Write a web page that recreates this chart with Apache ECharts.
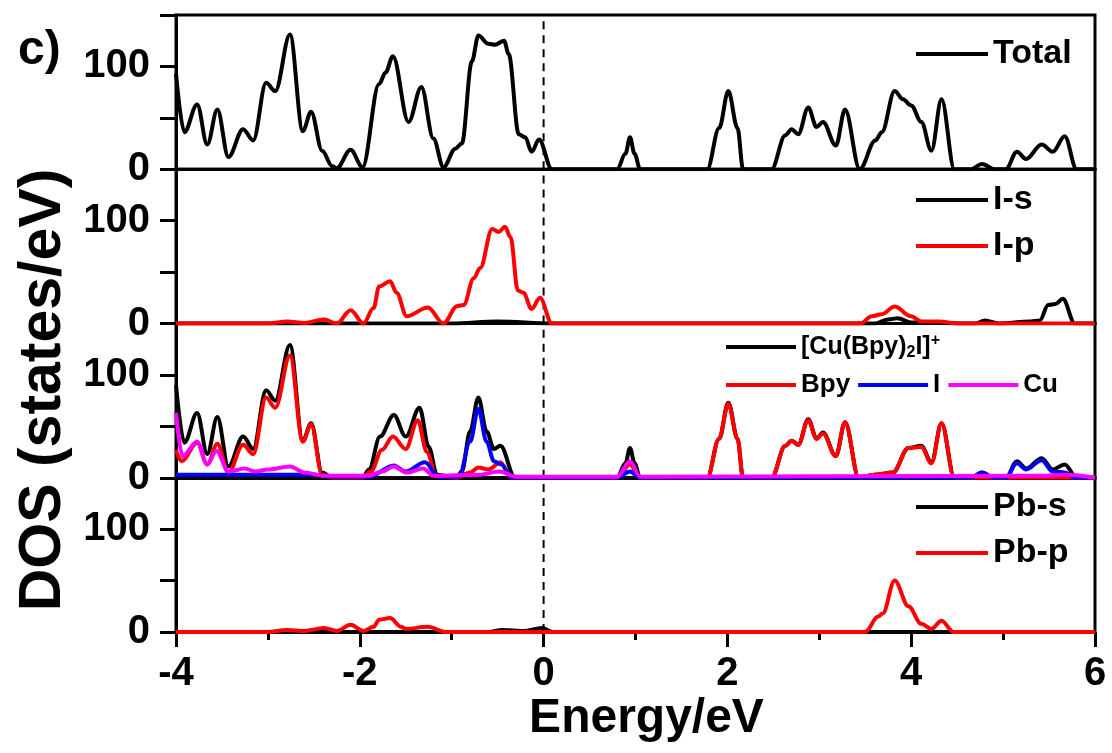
<!DOCTYPE html>
<html>
<head>
<meta charset="utf-8">
<style>
  html, body { margin: 0; padding: 0; background: #fff; }
  #main { width: 1112px; height: 753px; }
</style>
<script src="https://cdn.jsdelivr.net/npm/echarts/dist/echarts.min.js"></script>
</head>
<body>
<div id="main"></div>
<script>
// 图表数据：每条曲线为 [能量 eV, DOS] 点对
const xTicks = [-4, -2, 0, 2, 4, 6];
const yTicks = [0, 100];
const fermiLevel = [[0, 0], [0, 150]];   // 费米能级 E = 0

// 第一幅：Total
const total = [[-4.0,93],[-3.91,36],[-3.77,63],[-3.66,24],[-3.55,58],[-3.43,12],[-3.27,39],[-3.16,28],[-3.02,84],[-2.92,76],[-2.76,131],[-2.62,37],[-2.53,56],[-2.41,18],[-2.30,3],[-2.25,1],[-2.10,19],[-1.97,2],[-1.79,83],[-1.72,94],[-1.64,110],[-1.47,46],[-1.33,80],[-1.2,30],[-1.09,2],[-0.96,20],[-0.89,25],[-0.78,105],[-0.71,130],[-0.60,122],[-0.53,121],[-0.43,125],[-0.38,112],[-0.27,34],[-0.20,31],[-0.13,17],[-0.05,29],[0.09,0],[0.80,0],[0.89,15],[0.94,31],[0.99,15],[1.05,0],[1.78,0],[1.91,40],[2.01,76],[2.11,40],[2.17,0],[2.48,0],[2.63,33],[2.70,39],[2.77,34],[2.88,60],[2.97,41],[3.04,46],[3.18,23],[3.28,58],[3.44,0],[3.61,28],[3.68,36],[3.82,76],[3.91,68],[4.00,62],[4.11,46],[4.22,18],[4.33,68],[4.47,0],[4.65,0],[4.77,5],[4.91,0],[5.03,0],[5.15,17],[5.25,10],[5.42,24],[5.54,17],[5.67,32],[5.80,0],[6.0,0]];

// 第二幅：I-s, I-p
const iS = [[-4,0],[-1.0,0],[-0.5,2],[0.1,0],[3.6,0],[3.75,4],[3.85,5],[4.0,1],[4.7,0],[4.8,3],[4.95,0],[5.3,2],[5.40,3],[5.49,18],[5.57,19],[5.65,24],[5.78,0],[6,0]];
const iP = [[-4,0],[-3.0,0],[-2.79,2],[-2.6,0.5],[-2.39,4],[-2.25,0],[-2.10,13],[-1.96,0],[-1.85,15],[-1.79,36],[-1.67,41],[-1.6,30],[-1.49,7],[-1.26,15.5],[-1.09,0],[-0.94,17],[-0.87,18],[-0.76,44],[-0.69,54],[-0.56,92],[-0.49,89],[-0.42,94],[-0.36,84],[-0.28,32],[-0.22,30],[-0.13,14],[-0.04,25],[0.09,0],[3.45,0],[3.57,7],[3.68,9],[3.82,16.5],[4.0,7],[4.11,2],[4.3,2],[4.5,0],[6,0]];

// 第三幅：[Cu(Bpy)2I]+, Bpy, I, Cu
const cation = [[-4,90],[-3.91,34],[-3.77,63],[-3.66,23],[-3.55,59],[-3.43,11],[-3.27,40],[-3.16,28],[-3.02,85],[-2.92,75],[-2.76,129],[-2.62,36],[-2.53,53],[-2.41,5],[-2.3,0],[-1.97,0],[-1.90,8],[-1.78,40],[-1.63,61],[-1.50,40],[-1.35,68],[-1.25,30],[-1.16,3],[-0.95,0],[-0.89,6],[-0.80,45],[-0.71,78],[-0.62,45],[-0.54,28],[-0.47,31],[-0.31,0],[0.8,0],[0.89,14],[0.94,29],[0.99,14],[1.05,0],[1.78,0],[1.91,38],[2.01,73],[2.11,38],[2.17,0],[2.48,0],[2.63,31],[2.70,36],[2.77,32],[2.88,57],[2.97,38],[3.04,44],[3.18,21],[3.28,54],[3.43,0],[3.6,3],[3.8,5],[3.97,29],[4.11,31],[4.22,15],[4.33,53],[4.47,0],[4.65,0],[4.77,5],[4.9,0],[5.03,0],[5.15,16],[5.25,9],[5.42,19],[5.54,8],[5.67,13],[5.80,0],[6,0]];
const bpy = [[-4,27],[-3.94,16],[-3.77,34],[-3.66,13],[-3.55,33],[-3.43,5],[-3.27,32],[-3.16,23],[-3.02,78],[-2.92,68],[-2.76,119],[-2.62,35],[-2.53,52],[-2.41,3],[-2.3,0],[-1.97,0],[-1.88,6],[-1.76,27],[-1.64,40],[-1.50,28],[-1.37,56],[-1.27,25],[-1.17,2],[-0.95,0],[-0.80,5],[-0.71,10],[-0.60,8],[-0.47,15],[-0.35,0],[0.8,0],[0.94,13],[1.05,0],[1.78,0],[1.91,38],[2.01,72],[2.11,38],[2.17,0],[2.48,0],[2.63,31],[2.70,36],[2.77,32],[2.88,56],[2.97,38],[3.04,43],[3.18,21],[3.28,54],[3.43,0],[3.6,3],[3.8,5],[3.97,29],[4.11,30],[4.22,14],[4.33,53],[4.47,0],[6,0]];
const iodine = [[-4,3],[-2.5,3],[-2.3,1],[-1.9,1],[-1.63,12],[-1.5,6],[-1.29,15],[-1.15,1],[-0.92,1],[-0.80,35],[-0.71,67],[-0.62,35],[-0.54,16],[-0.46,13],[-0.35,0],[0.8,0],[0.94,6],[1.05,0],[4.65,0],[4.77,5],[4.9,0],[5.03,0],[5.15,14],[5.25,8],[5.42,17],[5.54,6],[5.67,5],[5.78,0],[6,0]];
const copper = [[-4,63],[-3.93,21],[-3.77,35],[-3.66,13],[-3.56,26],[-3.43,6],[-3.25,9],[-3.14,6],[-3.0,8],[-2.76,11],[-2.6,5],[-2.4,2],[-1.9,2],[-1.76,6],[-1.63,11],[-1.49,5],[-1.31,9],[-1.2,2],[-0.7,3],[-0.48,6],[-0.3,1],[0.8,1],[0.94,16],[1.05,1],[5.4,2],[5.7,3],[6,0]];

// 第四幅：Pb-s, Pb-p
const pbS = [[-4,0],[-0.6,0],[-0.45,2],[-0.2,1],[-0.02,4],[0.1,0],[6,0]];
const pbP = [[-4,0],[-3.0,0],[-2.8,2],[-2.6,1],[-2.39,4],[-2.25,1],[-2.10,7],[-1.96,1],[-1.85,5],[-1.79,12],[-1.67,13.5],[-1.55,5],[-1.5,3],[-1.26,5],[-1.07,0],[3.5,0],[3.64,15],[3.69,18],[3.82,50],[3.97,25],[4.11,8],[4.22,3],[4.33,11],[4.46,0],[6,0]];

const FONT = 'Liberation Sans, Arial, sans-serif';
const chart = echarts.init(document.getElementById('main'));

const panelTop = 15, panelH = 154.25;
const grids = [0, 1, 2, 3].map(i => ({
    left: 176, right: 17, top: panelTop + i * panelH, height: panelH,
    show: true, borderColor: '#000', borderWidth: 3
}));

const xAxes = [0, 1, 2, 3].map(i => {
    const last = i === 3;
    return {
        type: 'value', gridIndex: i, min: -4, max: 6, interval: 2,
        axisLine: { show: true, onZero: false, lineStyle: { color: '#000', width: 3 } },
        axisTick: { show: last, length: 15, lineStyle: { color: '#000', width: 3 } },
        minorTick: { show: last, splitNumber: 2, length: 8, lineStyle: { color: '#000', width: 3 } },
        splitLine: { show: false },
        axisLabel: {
            show: last, margin: 22, color: '#000', fontSize: 40, fontWeight: 'bold', fontFamily: FONT,
            formatter: v => xTicks.includes(v) ? String(v) : ''
        },
        name: last ? 'Energy/eV' : '',
        nameLocation: 'middle', nameGap: 58,
        nameTextStyle: { color: '#000', fontSize: 48, fontWeight: 'bold', fontFamily: FONT, padding: [0, 0, 0, 22] }
    };
});

const yAxes = [0, 1, 2, 3].map(i => ({
    type: 'value', gridIndex: i, min: 0, max: 150, interval: 50,
    axisLine: { show: true, onZero: false, lineStyle: { color: '#000', width: 3 } },
    axisTick: { length: 16, lineStyle: { color: '#000', width: 3 } },
    splitLine: { show: false },
    axisLabel: {
        margin: 26, color: '#000', fontSize: 40, fontWeight: 'bold', fontFamily: FONT,
        formatter: v => yTicks.includes(v) ? String(v) : ''
    }
}));

function line(name, data, color, panel) {
    return {
        name, type: 'line', data, xAxisIndex: panel, yAxisIndex: panel,
        showSymbol: false, symbol: 'none', smooth: 0.35, smoothMonotone: 'x',
        lineStyle: { color, width: 4 }, itemStyle: { color }, z: 3
    };
}

// 虚线（每个面板一条）
function dashed(panel) {
    return {
        type: 'line', data: fermiLevel, xAxisIndex: panel, yAxisIndex: panel,
        showSymbol: false, symbol: 'none', silent: true, z: 2,
        lineStyle: { color: '#000', width: 2, type: [8, 6] }
    };
}

const legendText = { color: '#000', fontSize: 34, fontWeight: 'bold', fontFamily: FONT };
const legendBase = { icon: 'rect', itemWidth: 72, itemHeight: 4, padding: 0, selectedMode: false };

chart.setOption({
    animation: false,
    backgroundColor: '#fff',
    grid: grids,
    xAxis: xAxes,
    yAxis: yAxes,
    legend: [
        Object.assign({}, legendBase, { data: ['Total'], left: 916, top: 37, textStyle: legendText }),
        Object.assign({}, legendBase, { data: ['I-s', 'I-p'], orient: 'vertical', left: 916, top: 183, itemGap: 12, textStyle: legendText }),
        Object.assign({}, legendBase, {
            data: ['[Cu(Bpy)2I]+'], left: 726, top: 333, itemWidth: 70,
            formatter: () => '{a|[Cu(Bpy)}{s|2}{a|I]}{p|+}',
            textStyle: {
                color: '#000', fontFamily: FONT, fontWeight: 'bold', fontSize: 25,
                rich: {
                    a: { fontSize: 25, fontWeight: 'bold', fontFamily: FONT, color: '#000' },
                    s: { fontSize: 16, fontWeight: 'bold', fontFamily: FONT, color: '#000', verticalAlign: 'bottom', padding: [8, 0, 0, 0] },
                    p: { fontSize: 16, fontWeight: 'bold', fontFamily: FONT, color: '#000', verticalAlign: 'top', padding: [0, 0, 12, 0] }
                }
            }
        }),
        Object.assign({}, legendBase, {
            data: ['Bpy', 'I', 'Cu'], left: 726, top: 372, itemWidth: 70, itemGap: 8,
            textStyle: { color: '#000', fontSize: 26, fontWeight: 'bold', fontFamily: FONT }
        }),
        Object.assign({}, legendBase, { data: ['Pb-s', 'Pb-p'], orient: 'vertical', left: 916, top: 490, itemGap: 12, textStyle: legendText })
    ],
    graphic: [
        {
            type: 'text', x: 44, y: 390, rotation: Math.PI / 2,
            style: { text: 'DOS (states/eV)', fill: '#000', fontSize: 59, fontWeight: 'bold', fontFamily: FONT, align: 'center', verticalAlign: 'middle' }
        },
        {
            type: 'text', x: 18, y: 51,
            style: { text: 'c)', fill: '#000', fontSize: 48, fontWeight: 'bold', fontFamily: FONT, align: 'left', verticalAlign: 'middle' }
        }
    ],
    series: [
        dashed(0), dashed(1), dashed(2), dashed(3),
        line('Total', total, '#000', 0),
        line('I-s', iS, '#000', 1),
        line('I-p', iP, '#ff0000', 1),
        line('[Cu(Bpy)2I]+', cation, '#000', 2),
        line('Bpy', bpy, '#ff0000', 2),
        line('I', iodine, '#0000ff', 2),
        line('Cu', copper, '#ff00ff', 2),
        line('Pb-s', pbS, '#000', 3),
        line('Pb-p', pbP, '#ff0000', 3)
    ]
});
</script>
</body>
</html>
